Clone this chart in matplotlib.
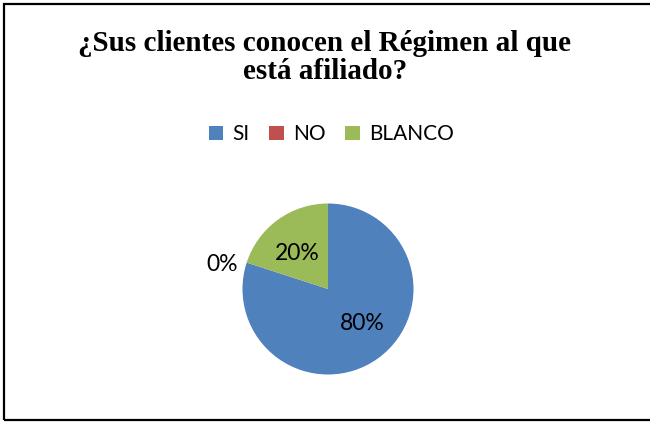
import matplotlib
matplotlib.use("Agg")
import matplotlib.pyplot as plt
from matplotlib.patches import Rectangle, Patch

categories = ["SI", "NO", "BLANCO"]
values = [80, 0, 20]
colors = ["#4F81BD", "#C0504D", "#9BBB59"]
label_texts = ["80%", "0%", "20%"]
title_lines = ["¿Sus clientes conocen el Régimen al que", "está afiliado?"]

W, H = 650, 422
fig = plt.figure(figsize=(W / 100, H / 100), dpi=100)

# outer frame
fig.patches.append(Rectangle((3.5 / W, 1 - 420 / H), 1.2, (420 - 3.5) / H,
                             transform=fig.transFigure, fill=False,
                             edgecolor="black", linewidth=1.6))

# title
fig.text(0.5, 1 - 51 / H, title_lines[0], ha="center", va="baseline",
         fontfamily="Liberation Serif", fontweight="bold", fontsize=21)
fig.text(0.5, 1 - 79 / H, title_lines[1], ha="center", va="baseline",
         fontfamily="Liberation Serif", fontweight="bold", fontsize=21)

# pie
cx, cy, r = 328, 289, 85.5
ax = fig.add_axes([(cx - r) / W, 1 - (cy + r) / H, 2 * r / W, 2 * r / H])
ax.pie(values, colors=colors, startangle=90, counterclock=False, radius=1,
       wedgeprops=dict(linewidth=0))
ax.set_xlim(-1, 1)
ax.set_ylim(-1, 1)
ax.set_aspect("equal")
ax.axis("off")

label_pos = [(0.40, -0.40), (-1.24, 0.29), (-0.36, 0.42)]
for (x, y), t in zip(label_pos, label_texts):
    ax.text(x, y, t, ha="center", va="center", fontfamily="Lato",
            fontsize=16.5, color="black", clip_on=False)

handles = [Patch(facecolor=c, edgecolor="none") for c in colors]
fig.legend(handles, categories, loc="center left", bbox_to_anchor=(209 / W, 1 - 134 / H),
           ncol=3, frameon=False, prop=dict(family="Lato", size=15),
           borderpad=0, borderaxespad=0,
           handlelength=0.68, handleheight=0.68, handletextpad=0.45,
           columnspacing=0.95)

fig.savefig("out.png", dpi=100)
